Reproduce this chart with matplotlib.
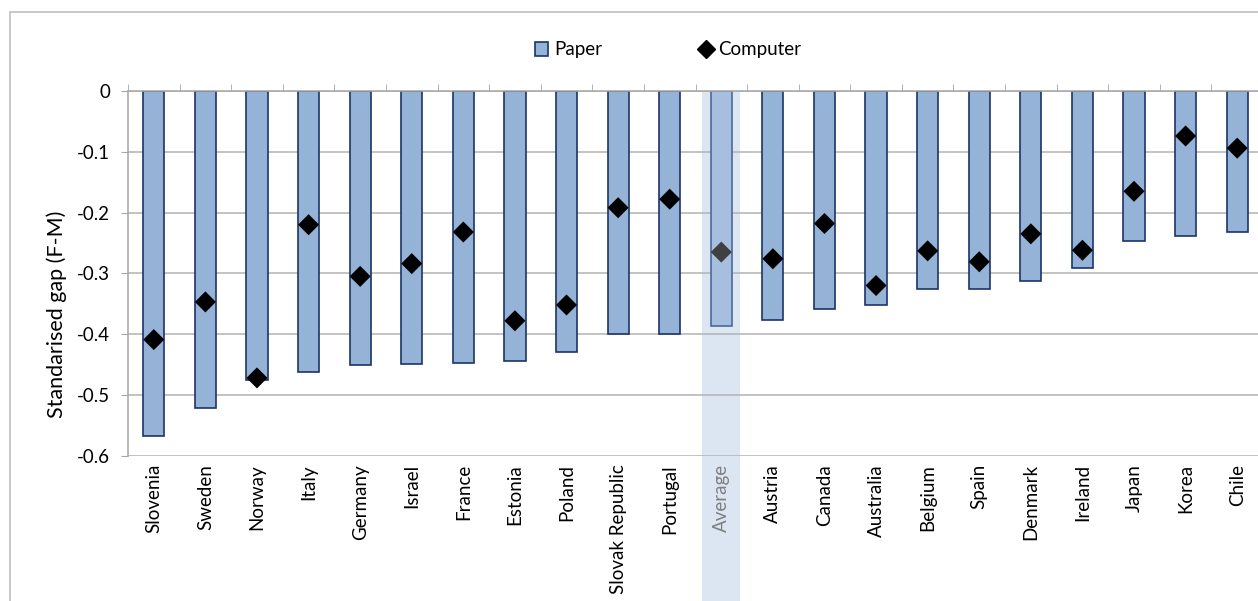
import matplotlib.pyplot as plt
from matplotlib.patches import Rectangle, Patch
from matplotlib.lines import Line2D
import matplotlib.transforms as mtransforms
import numpy as np

# ---- data ----
countries = ['Slovenia', 'Sweden', 'Norway', 'Italy', 'Germany', 'Israel', 'France',
             'Estonia', 'Poland', 'Slovak Republic', 'Portugal', 'Average', 'Austria',
             'Canada', 'Australia', 'Belgium', 'Spain', 'Denmark', 'Ireland', 'Japan',
             'Korea', 'Chile']
paper = [-0.568, -0.522, -0.475, -0.463, -0.451, -0.449, -0.448, -0.444, -0.429,
         -0.400, -0.400, -0.386, -0.377, -0.359, -0.352, -0.326, -0.325, -0.313,
         -0.291, -0.246, -0.238, -0.232]
computer = [-0.409, -0.347, -0.472, -0.220, -0.305, -0.284, -0.232, -0.378, -0.352,
            -0.192, -0.178, -0.265, -0.276, -0.218, -0.320, -0.263, -0.281, -0.235,
            -0.262, -0.165, -0.074, -0.094]
yticks = [0, -0.1, -0.2, -0.3, -0.4, -0.5, -0.6]

plt.rcParams['font.family'] = ['Lato', 'DejaVu Sans']
FS = 13.5

W, H = 1258, 601
fig = plt.figure(figsize=(W / 100, H / 100), dpi=100)
ax = fig.add_axes([128 / W, 1 - 455.7 / H, (1263 - 128) / W, (455.7 - 91) / H])

x = np.arange(len(countries))
avg_i = countries.index('Average')

# highlight column behind Average
trans = mtransforms.blended_transform_factory(ax.transData, ax.transAxes)
ax.add_patch(Rectangle((avg_i - 0.37, -0.45), 0.74, 1.45, transform=trans,
                       facecolor='#DCE6F2', edgecolor='none', clip_on=False, zorder=0))

fills = ['#A7BFDE' if c == 'Average' else '#95B3D7' for c in countries]
edges = ['#4A6A9C' if c == 'Average' else '#1B3466' for c in countries]
ax.bar(x, paper, width=0.41, color=fills, edgecolor=edges, linewidth=1.2, zorder=2)

dcol = ['#404040' if c == 'Average' else 'black' for c in countries]
ax.scatter(x, computer, marker='D', s=115, c=dcol, zorder=3, linewidths=0)

ax.set_xlim(-0.5, len(countries) - 0.5)
ax.set_ylim(-0.6, 0)
ax.set_yticks(yticks)
ax.set_yticklabels(['0', '-0.1', '-0.2', '-0.3', '-0.4', '-0.5', '-0.6'])
ax.set_xticks(x)
ax.set_xticklabels(countries, rotation=90, va='top', ha='center')
for lab in ax.get_xticklabels():
    if lab.get_text() == 'Average':
        lab.set_color('#7F7F7F')
ax.set_xticks(np.arange(-0.5, len(countries), 1), minor=True)
ax.tick_params(axis='x', which='major', length=0, pad=6, labelsize=FS)
ax.tick_params(axis='x', which='minor', top=True, bottom=False, direction='out',
               length=5, color='#A6A6A6')
ax.tick_params(axis='y', direction='out', length=5, color='#A6A6A6', labelsize=FS, pad=8)

ax.grid(axis='y', color='#B3B3B3', linewidth=1.1, zorder=1)
ax.set_axisbelow(True)
for s in ['right', 'bottom']:
    ax.spines[s].set_visible(False)
for s in ['left', 'top']:
    ax.spines[s].set_color('#A6A6A6')
    ax.spines[s].set_linewidth(1.1)

ax.set_ylabel('Standarised gap (F-M)', fontsize=15.5, va='center')
ax.yaxis.set_label_coords((57 - 128) / 1135, (455.7 - 314) / 364.7)

handles = [Patch(facecolor='#95B3D7', edgecolor='#1B3466', linewidth=1.2, label='Paper'),
           Line2D([], [], marker='D', color='black', linestyle='none', markersize=9,
                  label='Computer')]
fig.legend(handles=handles, loc='center', bbox_to_anchor=(668 / W, 1 - 50 / H), ncol=2,
           frameon=False, fontsize=FS, handlelength=0.7, handleheight=0.7,
           handletextpad=0.3, columnspacing=5.2)

# outer chart border
fig.add_artist(Rectangle((10 / W, -0.1), 1.2, 1.1 - 12 / H, transform=fig.transFigure,
                         fill=False, edgecolor='#BFBFBF', linewidth=1.2))

fig.savefig('out.png', dpi=100)
